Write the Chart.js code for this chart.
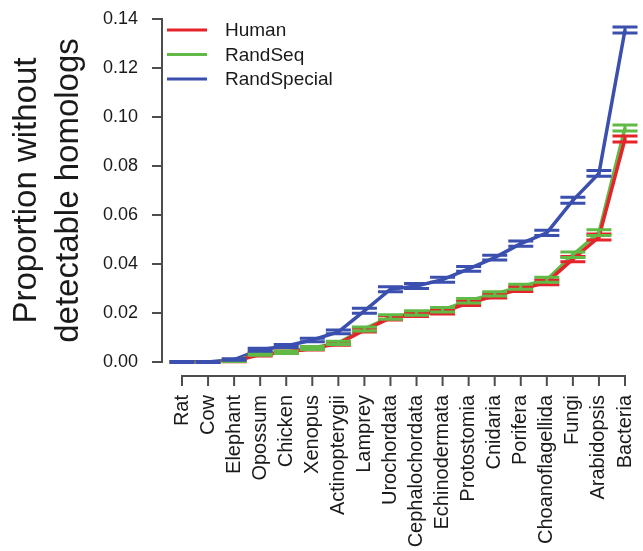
<!DOCTYPE html>
<html>
<head>
<meta charset="utf-8">
<script src="https://cdn.jsdelivr.net/npm/chart.js@4"></script>
<style>
  html, body { margin: 0; padding: 0; background: #fff; }
  #wrap { width: 643px; height: 551px; }
</style>
</head>
<body>
<div id="wrap"><canvas id="chart" width="643" height="551"></canvas></div>
<script>
const categories = ['Rat', 'Cow', 'Elephant', 'Opossum', 'Chicken', 'Xenopus', 'Actinopterygii', 'Lamprey',
  'Urochordata', 'Cephalochordata', 'Echinodermata', 'Protostomia', 'Cnidaria', 'Porifera',
  'Choanoflagellida', 'Fungi', 'Arabidopsis', 'Bacteria'];

const human = [0, 0, 0.0003, 0.003, 0.004, 0.0055, 0.0075, 0.013, 0.018, 0.0195, 0.0205, 0.024,
  0.027, 0.0298, 0.0325, 0.042, 0.051, 0.091];
const randSeq = [0, 0, 0.0004, 0.0033, 0.004, 0.0057, 0.0078, 0.0135, 0.0184, 0.020, 0.0213, 0.025,
  0.0278, 0.0307, 0.0336, 0.0438, 0.0528, 0.0955];
const randSpecial = [0, 0, 0.001, 0.005, 0.0065, 0.009, 0.0123, 0.0209, 0.0297, 0.031, 0.0336, 0.038,
  0.0426, 0.0483, 0.0527, 0.066, 0.077, 0.1355];

// half-width of the error bars
const humanErr = [0.0002, 0.0002, 0.0002, 0.0005, 0.0005, 0.0006, 0.0007, 0.0008, 0.0009, 0.0009,
  0.0009, 0.0009, 0.0009, 0.0010, 0.0010, 0.0011, 0.0012, 0.0012];
const randSeqErr = [0.0002, 0.0002, 0.0002, 0.0005, 0.0005, 0.0006, 0.0007, 0.0008, 0.0009, 0.0009,
  0.0009, 0.0009, 0.0009, 0.0010, 0.0010, 0.0011, 0.0012, 0.0012];
const randSpecialErr = [0.0002, 0.0002, 0.0003, 0.0006, 0.0006, 0.0007, 0.0008, 0.0010, 0.0010, 0.0010,
  0.0010, 0.0010, 0.0010, 0.0011, 0.0011, 0.0012, 0.0012, 0.0012];

const yTicks = [0, 0.02, 0.04, 0.06, 0.08, 0.10, 0.12, 0.14];

const FONT = '"Liberation Sans", Arial, Helvetica, sans-serif';
const AXIS = '#4d4d4d';

const errorBars = {
  id: 'errorBars',
  afterDatasetsDraw(chart) {
    const {ctx, scales: {x, y}} = chart;
    ctx.save();
    chart.data.datasets.forEach(ds => {
      ctx.strokeStyle = ds.borderColor;
      ctx.lineWidth = 3;
      ds.data.forEach((v, i) => {
        const px = x.getPixelForValue(i);
        const e = ds.err[i];
        const top = y.getPixelForValue(v + e);
        const bot = y.getPixelForValue(v - e);
        ctx.beginPath();
        ctx.moveTo(px, top); ctx.lineTo(px, bot);
        ctx.moveTo(px - 12.5, top); ctx.lineTo(px + 12.5, top);
        ctx.moveTo(px - 12.5, bot); ctx.lineTo(px + 12.5, bot);
        ctx.stroke();
      });
    });
    ctx.restore();
  }
};

// R-style detached axes + legend
const rAxes = {
  id: 'rAxes',
  afterDraw(chart) {
    const {ctx, scales: {x, y}} = chart;
    ctx.save();
    ctx.fillStyle = AXIS;
    const ax = Math.round(x.left - 20);
    const yTop = y.getPixelForValue(yTicks[yTicks.length - 1]);
    const yBot = y.getPixelForValue(yTicks[0]);
    ctx.fillRect(ax - 1, yTop - 1, 2, yBot - yTop + 2);
    yTicks.forEach(t => {
      const py = y.getPixelForValue(t);
      ctx.fillRect(ax - 10, py - 1, 10, 2);
    });
    const ay = Math.round(y.bottom + 14);
    const x0 = x.getPixelForValue(0);
    const x1 = x.getPixelForValue(categories.length - 1);
    ctx.fillRect(x0 - 1, ay - 1, x1 - x0 + 2, 2);
    categories.forEach((c, i) => {
      const px = x.getPixelForValue(i);
      ctx.fillRect(px - 1, ay, 2, 10);
    });

    ctx.font = '19px ' + FONT;
    ctx.textBaseline = 'middle';
    chart.data.datasets.forEach((ds, i) => {
      const ly = 30 + i * 24.5;
      ctx.strokeStyle = ds.borderColor;
      ctx.lineWidth = 3;
      ctx.beginPath();
      ctx.moveTo(167, ly); ctx.lineTo(207, ly);
      ctx.stroke();
      ctx.fillStyle = '#1a1a1a';
      ctx.fillText(ds.label, 225, ly + 1);
    });
    ctx.restore();
  }
};

const zeroPad = s => { s.paddingLeft = 0; s.paddingRight = 0; s.paddingTop = 0; s.paddingBottom = 0; };

new Chart(document.getElementById('chart'), {
  type: 'line',
  data: {
    labels: categories,
    datasets: [
      {label: 'Human', data: human, err: humanErr, borderColor: '#e4242b'},
      {label: 'RandSeq', data: randSeq, err: randSeqErr, borderColor: '#62ba46'},
      {label: 'RandSpecial', data: randSpecial, err: randSpecialErr, borderColor: '#3a4fae'}
    ].map(d => Object.assign(d, {borderWidth: 3.5, pointRadius: 0, tension: 0, fill: false}))
  },
  options: {
    responsive: false,
    animation: false,
    layout: {padding: {top: 19, right: 18, bottom: 0, left: 0}},
    plugins: {legend: {display: false}, tooltip: {enabled: false}},
    scales: {
      x: {
        offset: false,
        grid: {display: false, drawTicks: false},
        border: {display: false},
        afterFit: s => { s.height = 189; zeroPad(s); },
        ticks: {
          autoSkip: false, minRotation: 90, maxRotation: 90, padding: 33,
          color: '#1a1a1a', font: {family: FONT, size: 20}
        }
      },
      y: {
        min: 0, max: 0.14,
        grid: {display: false, drawTicks: false},
        border: {display: false},
        afterFit: s => { s.width = 182; zeroPad(s); },
        afterBuildTicks: s => { s.ticks = yTicks.map(v => ({value: v})); },
        ticks: {
          padding: 44, color: '#1a1a1a', font: {family: FONT, size: 18},
          callback: v => v.toFixed(2)
        },
        title: {
          display: true,
          text: ['Proportion without', 'detectable homologs'],
          color: '#1a1a1a',
          font: {family: FONT, size: 33, lineHeight: 1.3},
          padding: {top: 5, bottom: 0}
        }
      }
    }
  },
  plugins: [errorBars, rAxes]
});
</script>
</body>
</html>
